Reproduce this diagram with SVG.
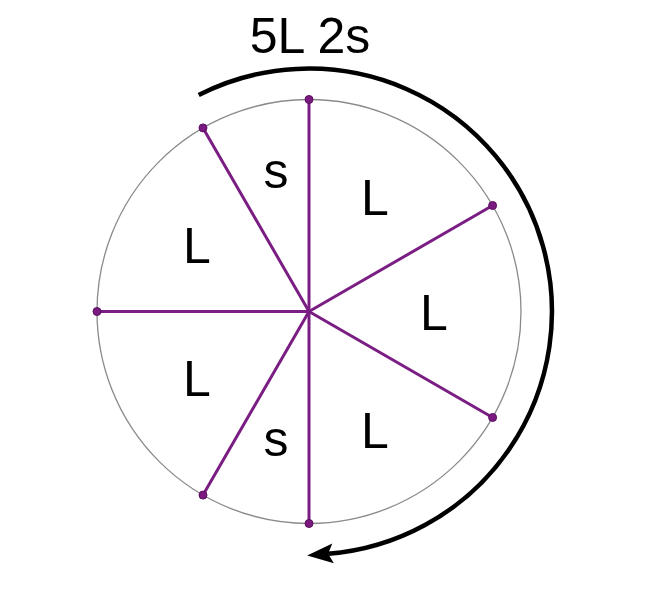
<svg xmlns="http://www.w3.org/2000/svg" width="646" height="600" viewBox="0 0 646 600">
  <style>
    .lbl { font-family: "Liberation Sans", Arial, sans-serif; font-size: 50px; fill: #000; text-anchor: middle; }
    .spoke { stroke: #7b1e83; stroke-width: 3; stroke-linecap: round; }
    .dot { fill: #7a1a80; stroke: #5a0f60; stroke-width: 1; }
    .rim { fill: none; stroke: #8a8a8a; stroke-width: 1.3; }
    .arc { fill: none; stroke: #000; stroke-width: 4.5; }
  </style>
  <defs>
    <marker id="ah" markerUnits="userSpaceOnUse" markerWidth="40" markerHeight="30" refX="5" refY="10" orient="auto" overflow="visible">
      <path d="M0,0 L26,10 L0,20 L5,10 Z" fill="#000"/>
    </marker>
  </defs>
  <rect width="646" height="600" fill="#fff"/>
  <g id="title">
    <text class="lbl" x="310" y="52.5">5L 2s</text>
  </g>
  <g id="wheel">
    <circle class="rim" cx="309" cy="311.5" r="212"/>
  </g>
  <g id="connectors">
    <line class="spoke" x1="309" y1="311.5" x2="309" y2="99.5"/>
    <line class="spoke" x1="309" y1="311.5" x2="492.6" y2="205.5"/>
    <line class="spoke" x1="309" y1="311.5" x2="492.6" y2="417.5"/>
    <line class="spoke" x1="309" y1="311.5" x2="309" y2="523.5"/>
    <line class="spoke" x1="309" y1="311.5" x2="203" y2="495.1"/>
    <line class="spoke" x1="309" y1="311.5" x2="97" y2="311.5"/>
    <line class="spoke" x1="309" y1="311.5" x2="203" y2="127.9"/>
    <path class="arc" d="M198.7,95 A243,243 0 1,1 328.1,553.8" marker-end="url(#ah)"/>
  </g>
  <g id="points">
    <circle class="dot" cx="309" cy="99.5" r="4"/>
    <circle class="dot" cx="492.6" cy="205.5" r="4"/>
    <circle class="dot" cx="492.6" cy="417.5" r="4"/>
    <circle class="dot" cx="309" cy="523.5" r="4"/>
    <circle class="dot" cx="203" cy="495.1" r="4"/>
    <circle class="dot" cx="97" cy="311.5" r="4"/>
    <circle class="dot" cx="203" cy="127.9" r="4"/>
  </g>
  <g id="sector-s-top"><text class="lbl" x="276" y="188">s</text></g>
  <g id="sector-L-1"><text class="lbl" x="375" y="215">L</text></g>
  <g id="sector-L-2"><text class="lbl" x="434" y="330">L</text></g>
  <g id="sector-L-3"><text class="lbl" x="375" y="448">L</text></g>
  <g id="sector-s-bottom"><text class="lbl" x="276" y="456">s</text></g>
  <g id="sector-L-4"><text class="lbl" x="197" y="396">L</text></g>
  <g id="sector-L-5"><text class="lbl" x="197" y="263">L</text></g>
</svg>
